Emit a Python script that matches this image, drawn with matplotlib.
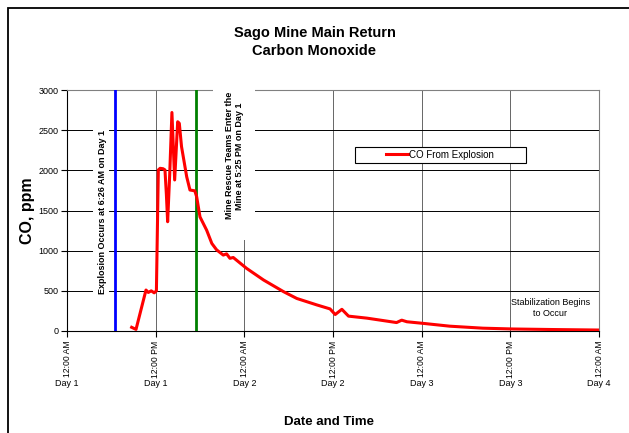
import matplotlib
matplotlib.use("Agg")
import matplotlib.pyplot as plt
from matplotlib.patches import Rectangle

plt.rcParams['font.family'] = ['Liberation Sans', 'DejaVu Sans']

# hours counted from 12:00 AM on Day 1
hours = [8.75, 9.34, 10.69, 11.0, 11.4, 11.8, 12.1, 12.36, 12.6, 13.0, 13.26, 13.45,
         13.62, 13.9, 14.2, 14.57, 14.98, 15.2, 15.5, 16.2, 16.64, 17.3, 17.55, 18.0,
         18.9, 19.6, 20.25, 21.15, 21.6, 22.05, 22.5, 24.3, 26.6, 29.3, 31.1, 33.8,
         35.6, 36.3, 37.2, 38.1, 40.6, 44.6, 45.3, 46.0, 48.2, 51.8, 56.3, 60.4,
         66.0, 72.0]
co_ppm = [46, 20, 510, 480, 500, 475, 500, 2005, 2025, 2020, 2005, 1700,
          1360, 1950, 2720, 1880, 2605, 2585, 2295, 1920, 1755, 1745, 1670, 1420,
          1255, 1090, 1010, 945, 960, 905, 915, 780, 635, 490, 405, 325,
          275, 205, 270, 185, 160, 105, 135, 115, 95, 60, 35, 25,
          18, 12]

explosion_h = 6 + 26 / 60.0
rescue_h = 17 + 25 / 60.0

tick_hours = [0, 12, 24, 36, 48, 60, 72]
time_labels = ['12:00 AM', '12:00 PM', '12:00 AM', '12:00 PM', '12:00 AM', '12:00 PM', '12:00 AM']
day_labels = ['Day 1', 'Day 1', 'Day 2', 'Day 2', 'Day 3', 'Day 3', 'Day 4']

fig = plt.figure(figsize=(6.29, 4.33), dpi=100)
ax = fig.add_axes([67 / 629, 102 / 433, 532 / 629, 241 / 433])

ax.plot(hours, co_ppm, color='red', lw=2.2, label='CO From Explosion',
        zorder=6, solid_joinstyle='round')
ax.axvline(explosion_h, color='#0000ff', lw=2, zorder=3)
ax.axvline(rescue_h, color='#008000', lw=2, zorder=3)

ax.set_xlim(0, 72)
ax.set_ylim(0, 3000)
ax.set_yticks(range(0, 3001, 500))
ax.set_xticks(tick_hours)
ax.set_xticklabels(time_labels, rotation=90, fontsize=6.2, va='top')
ax.tick_params(axis='y', labelsize=6.5, length=4, width=0.8, pad=2)
ax.tick_params(axis='x', length=4, width=0.8, pad=3)

ax.set_axisbelow(True)
ax.grid(axis='y', color='black', lw=0.7)
ax.grid(axis='x', color='0.4', lw=0.7)
for s in ['top', 'right']:
    ax.spines[s].set_color('0.5')
    ax.spines[s].set_linewidth(0.8)
for s in ['left', 'bottom']:
    ax.spines[s].set_color('black')
    ax.spines[s].set_linewidth(0.8)

for h, d in zip(tick_hours, day_labels):
    ax.text(h, -0.216, d, transform=ax.get_xaxis_transform(), ha='center',
            va='center', fontsize=6.5)

# annotations (white boxes hide the gridlines behind them)
ax.add_patch(Rectangle((3.5, 300), 2.2, 2350, facecolor='white', edgecolor='none',
                       zorder=4))
ax.text(4.8, 1480, 'Explosion Occurs at 6:26 AM on Day 1', rotation=90,
        ha='center', va='center', fontsize=6.5, fontweight='bold', zorder=5)
ax.add_patch(Rectangle((19.7, 1133), 5.7, 1900, facecolor='white', edgecolor='none',
                       zorder=4, clip_on=False))
ax.text(22.7, 2180, 'Mine Rescue Teams Enter the\nMine at 5:25 PM on Day 1',
        rotation=90, ha='center', va='center', fontsize=6.5, fontweight='bold',
        zorder=5, multialignment='center')
ax.text(65.4, 285, 'Stabilization Begins\nto Occur', ha='center', va='center',
        fontsize=6.5, zorder=5, multialignment='center')

# legend with a wide box
ax.add_patch(Rectangle((0.541, 0.696), 0.321, 0.069, transform=ax.transAxes,
                       facecolor='white', edgecolor='black', lw=0.8, zorder=7))
leg = ax.legend(loc='center', bbox_to_anchor=(0.701, 0.731), frameon=False,
                fontsize=7, handlelength=2.2, handletextpad=0.1)
leg.set_zorder(8)

fig.text(0.5, 0.903, 'Sago Mine Main Return\nCarbon Monoxide', ha='center',
         va='center', fontsize=10.5, fontweight='bold', linespacing=1.3)
fig.text(28 / 629, 1 - 211 / 433, 'CO, ppm', rotation=90, ha='center', va='center',
         fontsize=11.5, fontweight='bold')
fig.text(329 / 629, 1 - 422 / 433, 'Date and Time', ha='center', va='center',
         fontsize=9.5, fontweight='bold')

# outer chart border
fig.add_artist(Rectangle((8 / 629, -0.05), 1.1, 1 - 8 / 433 + 0.05,
                         transform=fig.transFigure, fill=False,
                         edgecolor='black', lw=1.3))

fig.savefig('out.png', dpi=100)
